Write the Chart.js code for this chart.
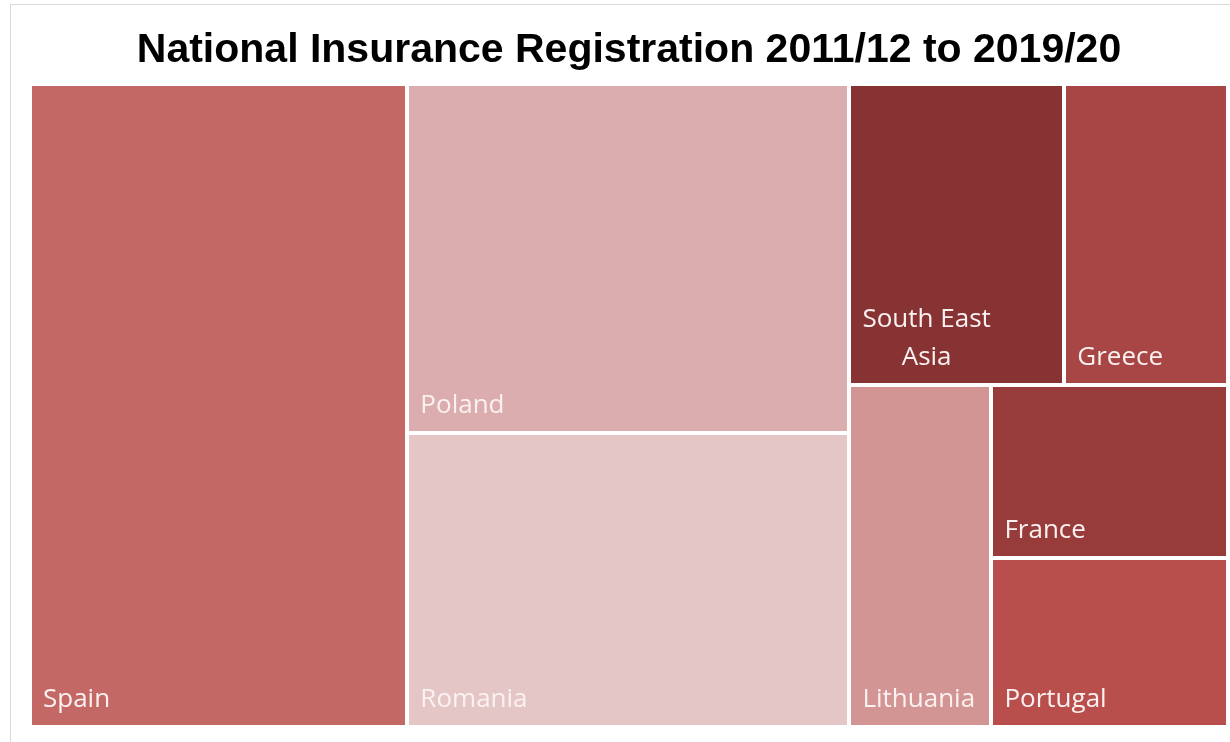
<!DOCTYPE html>
<html>
<head>
<meta charset="utf-8">
<script src="https://cdn.jsdelivr.net/npm/chart.js@4.4.1/dist/chart.umd.min.js"></script>
<style>
  html, body { margin: 0; padding: 0; background: #ffffff; }
  #wrap { width: 1230px; height: 742px; position: relative; }
</style>
</head>
<body>
<div id="wrap"><canvas id="c" width="1230" height="742"></canvas></div>
<script>
// ---- data (relative registrations, estimated) ----
const categories = ['Spain', 'Poland', 'Romania', 'South East Asia', 'Greece', 'Lithuania', 'France', 'Portugal'];
const registrations = [315, 200, 169, 84, 64, 63, 53, 52];
const cellColors = ['#C36865', '#DBADAE', '#E5C6C7', '#873334', '#A84645', '#D39494', '#983B3B', '#B94F4C'];
// how many consecutive items share each strip of the squarified layout
const stripSizes = [1, 2, 2, 1, 1, 1];
const titleText = 'National Insurance Registration 2011/12 to 2019/20';

// squarified-style strip layout in normalised [0,1] units; orientation from pixel aspect
function layoutCells(values, strips, aspectW, aspectH) {
  const cells = [];
  let rx = 0, ry = 0, rw = 1, rh = 1; // normalised
  let i = 0;
  for (const n of strips) {
    const rest = values.slice(i).reduce((a, b) => a + b, 0);
    const row = values.slice(i, i + n);
    const rowSum = row.reduce((a, b) => a + b, 0);
    const pw = rw * aspectW, ph = rh * aspectH;
    if (pw >= ph) {
      const cw = rw * rowSum / rest;
      let yy = ry;
      row.forEach((v, k) => {
        const hh = rh * v / rowSum;
        cells.push({ idx: i + k, x0: rx, x1: rx + cw, y0: yy, y1: yy + hh });
        yy += hh;
      });
      rx += cw; rw -= cw;
    } else {
      const chh = rh * rowSum / rest;
      let xx = rx;
      row.forEach((v, k) => {
        const ww = rw * v / rowSum;
        cells.push({ idx: i + k, x0: xx, x1: xx + ww, y0: ry, y1: ry + chh });
        xx += ww;
      });
      ry += chh; rh -= chh;
    }
    i += n;
  }
  return cells;
}

const LABEL_FONT = '26px "Open Sans", "Noto Sans", sans-serif';
const LABEL_LINE = 38;

function wrapWords(ctx, text, maxW) {
  const words = text.split(' ');
  const lines = [];
  let cur = '';
  for (const w of words) {
    const t = cur ? cur + ' ' + w : w;
    if (cur && ctx.measureText(t).width > maxW) { lines.push(cur); cur = w; }
    else cur = t;
  }
  if (cur) lines.push(cur);
  return lines;
}

const treemapPlugin = {
  id: 'treemapCells',
  beforeDraw(chart) {
    const ctx = chart.ctx;
    ctx.save();
    ctx.fillStyle = '#ffffff';
    ctx.fillRect(0, 0, chart.width, chart.height);
    ctx.strokeStyle = '#D9D9D9';
    ctx.lineWidth = 1;
    ctx.strokeRect(10.5, 4.5, chart.width + 20, chart.height + 20);
    ctx.restore();
  },
  afterDatasetsDraw(chart) {
    const ctx = chart.ctx;
    const xs = chart.scales.x, ys = chart.scales.y;
    const a = chart.chartArea;
    const cells = layoutCells(registrations, stripSizes, a.right - a.left, a.bottom - a.top);
    const gap = 2;
    ctx.save();
    cells.forEach(c => {
      const px0 = xs.getPixelForValue(c.x0) + gap;
      const px1 = xs.getPixelForValue(c.x1) - gap;
      const py0 = ys.getPixelForValue(c.y0) + gap;
      const py1 = ys.getPixelForValue(c.y1) - gap;
      ctx.fillStyle = cellColors[c.idx];
      ctx.fillRect(Math.round(px0), Math.round(py0), Math.round(px1) - Math.round(px0), Math.round(py1) - Math.round(py0));
    });
    ctx.font = LABEL_FONT;
    ctx.fillStyle = '#FBF1F1';
    ctx.textBaseline = 'alphabetic';
    cells.forEach(c => {
      const px0 = xs.getPixelForValue(c.x0) + gap;
      const px1 = xs.getPixelForValue(c.x1) - gap;
      const py1 = ys.getPixelForValue(c.y1) - gap;
      const pad = 11;
      const lines = wrapWords(ctx, categories[c.idx], px1 - px0 - 2 * pad - 8);
      const blockW = Math.max(...lines.map(l => ctx.measureText(l).width));
      const baseBottom = py1 - 18;
      lines.forEach((l, k) => {
        const lw = ctx.measureText(l).width;
        const y = baseBottom - (lines.length - 1 - k) * LABEL_LINE;
        ctx.textAlign = 'left';
        ctx.fillText(l, px0 + pad + (blockW - lw) / 2, y);
      });
    });
    ctx.restore();
  }
};

new Chart(document.getElementById('c'), {
  type: 'scatter',
  data: { datasets: [{ label: 'Registrations', data: [], pointRadius: 0 }] },
  options: {
    responsive: false,
    animation: false,
    events: [],
    layout: { padding: { left: 30, right: 2, top: 0, bottom: 15 } },
    scales: {
      x: { type: 'linear', min: 0, max: 1, display: false },
      y: { type: 'linear', min: 0, max: 1, reverse: true, display: false }
    },
    plugins: {
      legend: { display: false },
      tooltip: { enabled: false },
      title: {
        display: true,
        text: titleText,
        color: '#000000',
        font: { family: '"Liberation Sans", Arial, sans-serif', size: 41, weight: 'bold', lineHeight: 1.2 },
        padding: { top: 26, bottom: 9 }
      }
    }
  },
  plugins: [treemapPlugin]
});
</script>
</body>
</html>
